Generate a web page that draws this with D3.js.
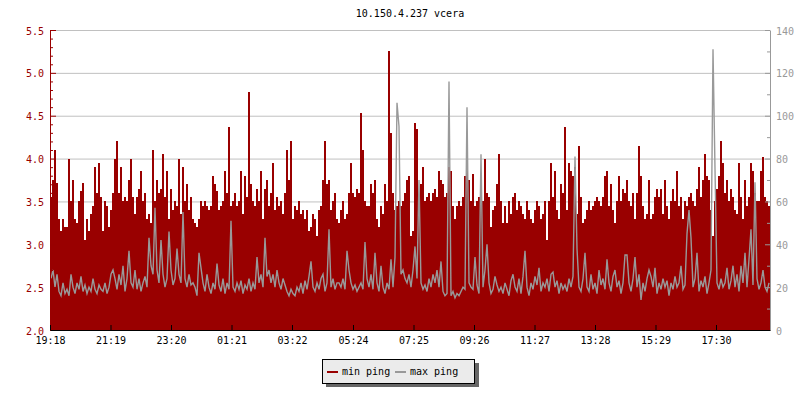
<!DOCTYPE html>
<html>
<head>
<meta charset="utf-8">
<script src="https://cdn.jsdelivr.net/npm/d3@7"></script>
<style>
  html, body { margin: 0; padding: 0; background: #fff; }
  svg { display: block; }
  text { font-family: "DejaVu Sans Mono", monospace; font-size: 10px; }
</style>
</head>
<body>
<svg id="chart" width="800" height="400"></svg>
<script>
// ---------------- DATA ----------------
const chartTitle = "10.150.4.237 vcera";
const startTime = "19:18";          // first sample
const sampleMinutes = 4;            // spacing between samples
const totalMinutes = 1440;          // 24 h of data
const xTickLabels = ["19:18","21:19","23:20","01:21","03:22","05:24","07:25","09:26","11:27","13:28","15:29","17:30"];
const leftTicks = [2.0, 2.5, 3.0, 3.5, 4.0, 4.5, 5.0, 5.5];
const rightTicks = [0, 20, 40, 60, 80, 100, 120, 140];
const seriesNames = ["min ping", "max ping"];

// min ping (left axis)
const minPing = [
3.55,3.75,4.1,3.72,3.3,3.15,3.3,3.2,3.2,4.0,
3.5,3.75,3.3,3.25,3.5,3.62,3.72,3.05,3.3,3.15,
3.35,3.45,3.9,3.6,3.95,3.55,3.15,3.5,3.45,3.2,
3.4,3.6,4.0,4.2,3.6,3.9,3.5,3.55,3.5,3.75,
4.0,3.55,3.35,3.55,3.65,3.85,3.5,3.6,3.3,3.35,
3.25,4.1,3.5,3.75,3.6,3.65,4.05,3.55,3.85,3.3,
3.65,3.4,3.5,3.45,4.0,3.35,3.9,3.5,3.7,3.4,
3.55,3.3,
3.25,3.2,3.3,3.5,3.45,3.5,3.45,3.4,3.45,3.8,
3.7,3.62,3.4,3.45,3.5,3.85,3.6,4.37,3.45,3.5,
3.6,3.45,3.5,3.85,3.35,3.8,3.55,4.78,3.7,3.5,
3.45,3.65,3.5,3.85,3.3,3.65,3.75,3.45,3.6,3.95,
3.4,3.55,3.45,3.5,3.35,3.6,4.1,3.75,4.2,3.3,
3.45,3.4,3.5,3.35,3.4,3.3,3.4,3.15,3.2,3.35,
3.3,3.1,3.4,3.45,3.75,4.2,3.7,3.75,3.4,3.5,
3.6,3.3,
3.25,3.4,3.5,3.3,3.35,3.6,3.95,3.6,3.55,3.65,
3.6,4.53,4.1,3.5,3.45,3.45,3.7,3.6,3.75,3.3,
3.2,3.45,3.35,3.7,3.5,5.25,4.3,3.6,3.4,3.45,
3.5,3.45,3.5,3.6,3.75,3.8,3.1,3.15,4.42,4.35,
3.55,3.7,3.9,3.5,3.55,3.6,3.5,3.6,3.65,3.55,
3.85,3.75,3.7,3.55,3.6,3.9,3.85,3.45,3.3,3.45,
3.5,3.45,3.55,3.8,3.85,3.75,3.5,3.82,3.45,3.5,
3.55,3.6,
3.5,4.0,3.6,3.55,3.2,3.4,3.45,3.7,4.05,3.5,
3.25,3.45,3.25,3.5,3.35,3.55,3.6,3.4,3.5,3.45,
3.35,3.3,3.5,3.4,3.3,3.25,3.4,3.5,3.45,3.3,
3.35,3.5,3.05,3.5,3.95,3.55,3.85,3.4,3.3,3.7,
3.6,4.37,3.4,3.95,3.85,3.8,3.9,3.35,4.15,3.55,
3.25,3.3,3.4,3.5,3.4,3.45,3.5,3.55,3.5,3.45,
3.55,3.8,3.85,3.45,3.7,3.4,3.25,3.5,3.8,3.5,
3.65,3.6,
3.75,3.5,3.45,3.6,3.3,3.6,4.15,3.8,3.45,3.3,
3.35,3.75,3.3,3.35,3.55,3.65,3.55,3.65,3.35,3.75,
3.45,3.3,3.5,3.65,3.5,3.85,3.45,3.55,3.3,3.5,
3.45,3.55,3.6,3.5,3.45,3.65,3.9,3.55,3.75,4.05,
3.8,3.75,3.4,3.1,3.5,3.65,3.8,4.2,3.95,3.6,
3.75,3.5,3.65,3.55,3.4,3.35,3.95,3.55,3.3,3.75,
3.45,3.55,3.95,3.85,3.6,3.5,3.5,3.85,4.02,3.55,
3.5,3.45
];

// max ping (right axis)
const maxPing = [
24,28,20,26,18,16,22,17,19,16, 26,20,17,22,19,25,18,21,17,20,
18,24,19,17,21,19,18,22,17,20, 26,28,24,19,26,21,30,18,24,37,
22,20,28,19,24,18,22,25,20,43, 30,26,57,28,22,42,26,20,24,46,
28,21,24,38,26,22,55,24,20,26, 21,22,
20,16,36,29,22,18,26,20,17,22, 19,31,21,18,24,17,22,19,51,20,
18,22,19,23,17,21,19,24,18,22, 19,34,22,26,20,43,25,28,22,26,
20,28,22,19,24,21,18,16,19,17, 16,20,18,22,17,23,19,25,32,20,
18,22,19,24,26,18,22,47,20,24, 19,22,
22,20,24,19,37,28,22,19,21,18, 20,22,19,41,24,20,26,19,36,22,
18,30,20,17,22,19,33,20,34,106, 95,26,28,24,22,26,20,28,39,24,
70,22,19,21,18,24,20,26,22,28, 20,32,18,16,17,116,16,18,15,17,
16,18,20,19,104,22,20,19,34,21, 17,82,
20,28,40,22,17,19,25,21,18,20, 17,22,19,16,23,26,20,18,24,17,
25,37,20,16,22,19,25,21,29,18, 22,20,24,18,26,27,20,23,17,22,
19,21,18,24,20,25,81,38,20,18, 24,36,20,18,26,19,22,17,28,21,
24,19,33,22,18,25,28,20,23,17, 22,35,
35,22,18,24,34,20,26,14,22,18, 24,28,25,20,29,17,22,19,24,20,
23,16,22,19,25,20,22,30,19,21, 45,56,43,20,24,36,18,23,20,25,
17,22,28,131,75,22,19,24,20,22, 29,19,23,30,20,26,18,30,22,36,
20,33,47,21,69,24,19,22,28,20, 18,22
];

// ---------------- CHART ----------------
const svg = d3.select("#chart");
const plot = { left: 50, right: 770, top: 30, bottom: 330 };
const colMin = "#990000", colMax = "#999999", colGrid = "#c0c0c0";

const [sh, sm] = startTime.split(":").map(Number);
const t0 = new Date(2024, 0, 1, sh, sm);
const addMin = (d, m) => new Date(d.getTime() + m * 60000);
const t1 = addMin(t0, totalMinutes);

function labelToDate(lbl) {
  const [h, m] = lbl.split(":").map(Number);
  let d = new Date(2024, 0, 1, h, m);
  if (d < t0) d = new Date(2024, 0, 2, h, m);
  return d;
}

const x = d3.scaleTime().domain([t0, t1]).range([plot.left, plot.right]);
const yL = d3.scaleLinear().domain([2.0, 5.5]).range([plot.bottom, plot.top]);
const yR = d3.scaleLinear().domain([0, 140]).range([plot.bottom, plot.top]);

const minData = minPing.map((v, i) => ({ t: addMin(t0, i * sampleMinutes), v }));
minData.push({ t: t1, v: minPing[minPing.length - 1] });
const maxData = maxPing.map((v, i) => ({ t: addMin(t0, i * sampleMinutes + sampleMinutes / 2), v }));

// grid
const grid = svg.append("g").attr("transform", `translate(${plot.left},0)`)
  .call(d3.axisLeft(yL).tickValues(leftTicks).tickSize(-(plot.right - plot.left)).tickFormat(""));
grid.select(".domain").remove();
grid.selectAll("line").attr("stroke", colGrid);

// min ping area
svg.append("path")
  .datum(minData)
  .attr("fill", colMin)
  .attr("shape-rendering", "crispEdges")
  .attr("d", d3.area().x(d => x(d.t)).y0(yL(2.0)).y1(d => yL(d.v)).curve(d3.curveStepAfter));

// max ping line
svg.append("path")
  .datum(maxData)
  .attr("fill", "none")
  .attr("stroke", colMax)
  .attr("stroke-width", 1.4)
  .attr("stroke-linejoin", "miter")
  .attr("d", d3.line().x(d => x(d.t)).y(d => yR(d.v)));

// left axis
const minorL = d3.range(20, 56).map(v => v / 10).filter(v => !leftTicks.some(t => Math.abs(t - v) < 1e-9));
const gLm = svg.append("g").attr("transform", `translate(${plot.left},0)`)
  .call(d3.axisLeft(yL).tickValues(minorL).tickSizeInner(-3).tickSizeOuter(0).tickFormat(""));
gLm.select(".domain").remove();
gLm.selectAll("line").attr("stroke", colMin);
const gL = svg.append("g").attr("transform", `translate(${plot.left},0)`)
  .call(d3.axisLeft(yL).tickValues(leftTicks).tickSizeInner(-6).tickSizeOuter(0).tickPadding(6).tickFormat(d3.format(".1f")));
gL.select(".domain").attr("stroke", colMin);
gL.selectAll("line").attr("stroke", colMin);
gL.selectAll("text").attr("fill", colMin).attr("dy", "0.4em");

// right axis
const minorR = d3.range(0, 141, 10).filter(v => !rightTicks.includes(v));
const gRm = svg.append("g").attr("transform", `translate(${plot.right},0)`)
  .call(d3.axisRight(yR).tickValues(minorR).tickSizeInner(-3).tickSizeOuter(0).tickFormat(""));
gRm.select(".domain").remove();
gRm.selectAll("line").attr("stroke", colMax);
const gR = svg.append("g").attr("transform", `translate(${plot.right},0)`)
  .call(d3.axisRight(yR).tickValues(rightTicks).tickSizeInner(-5).tickSizeOuter(0).tickPadding(6));
gR.select(".domain").attr("stroke", colMax);
gR.selectAll("line").attr("stroke", colMax);
gR.selectAll("text").attr("fill", colMax).attr("dy", "0.4em");

// bottom axis
const gB = svg.append("g").attr("transform", `translate(0,${plot.bottom})`)
  .call(d3.axisBottom(x).tickValues(xTickLabels.map(labelToDate)).tickSizeInner(-5).tickSizeOuter(0).tickPadding(7)
    .tickFormat((d, i) => xTickLabels[i]));
gB.select(".domain").attr("stroke", "#000");
gB.selectAll("line").attr("stroke", "#000");
gB.selectAll("text").attr("fill", "#000");

svg.selectAll(".tick text").style("font-family", "'DejaVu Sans Mono', monospace").style("font-size", "10px");

// title
svg.append("text").attr("x", (plot.left + plot.right) / 2).attr("y", 17)
  .attr("text-anchor", "middle").attr("fill", "#000").text(chartTitle);

// legend
const lg = svg.append("g");
lg.append("rect").attr("x", 326).attr("y", 363).attr("width", 153).attr("height", 24).attr("fill", "#666");
lg.append("rect").attr("x", 322.5).attr("y", 359.5).attr("width", 152).attr("height", 24)
  .attr("fill", "#ebebeb").attr("stroke", "#000");
const lgItems = [{ name: seriesNames[0], c: colMin, x: 327 }, { name: seriesNames[1], c: colMax, x: 395 }];
lgItems.forEach(it => {
  lg.append("line").attr("x1", it.x).attr("x2", it.x + 11).attr("y1", 372).attr("y2", 372)
    .attr("stroke", it.c).attr("stroke-width", 2);
  lg.append("text").attr("x", it.x + 15).attr("y", 375).attr("fill", "#000").text(it.name);
});
</script>
</body>
</html>
